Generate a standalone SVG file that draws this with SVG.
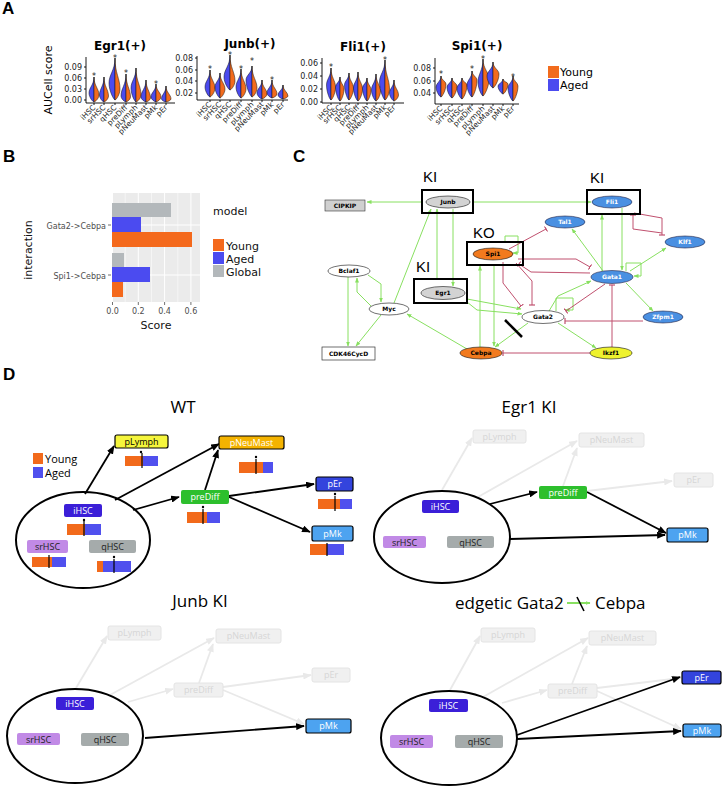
<svg xmlns="http://www.w3.org/2000/svg" width="722" height="786" viewBox="0 0 722 786">
<defs>
<style>
.lab{font-family:"Liberation Sans",Arial,sans-serif;font-weight:bold;font-size:17px;fill:#000}
.dj{font-family:"DejaVu Sans",sans-serif}
.tt{font-family:"DejaVu Sans",sans-serif;font-size:12px;font-weight:bold;text-anchor:middle}
.tk{font-family:"DejaVu Sans",sans-serif;font-size:8px;text-anchor:end;fill:#222}
.xl{font-family:"DejaVu Sans",sans-serif;font-size:7.5px;text-anchor:end;fill:#222}
.st{font-family:"DejaVu Sans",sans-serif;font-size:8px;text-anchor:middle;fill:#222}
.ax{stroke:#000;stroke-width:0.9;fill:none}
.vb{fill:#4B4BEF;stroke:#111;stroke-width:0.5}
.vo{fill:#F26B1D;stroke:#111;stroke-width:0.5}
.leg{font-family:"DejaVu Sans",sans-serif;font-size:11px;fill:#111}
.gt{font-family:"DejaVu Sans",sans-serif;font-size:8px;fill:#4D4D4D}
.eg{stroke:#88E060;stroke-width:1;fill:none}
.er{stroke:#C0506E;stroke-width:1;fill:none}
.nt{font-family:"DejaVu Sans",sans-serif;font-size:6px;font-weight:bold;text-anchor:middle}
.kb{fill:none;stroke:#000;stroke-width:2}
.ki{font-family:"Liberation Sans",Arial,sans-serif;font-size:15px;fill:#000}
.ttl{font-family:"Open Sans",sans-serif;font-size:17px;fill:#000}
.dn{font-family:"Open Sans",sans-serif;font-size:9px;text-anchor:middle;fill:#fff}
.ed{stroke:#000;stroke-width:1.8;fill:none}
.ef{stroke:#E9E9E9;stroke-width:1.8;fill:none}
.fn{fill:#F0F0F0;stroke:#E4E4E4;stroke-width:1}
.ft{font-family:"Open Sans",sans-serif;font-size:9px;text-anchor:middle;fill:#D6D6D6}
.ell{fill:none;stroke:#000;stroke-width:2}
.yo{fill:#F26A1B}
.ag{fill:#5050EE}
</style>
<marker id="ab" viewBox="0 0 10 8" refX="9" refY="4" markerWidth="9" markerHeight="7" markerUnits="userSpaceOnUse" orient="auto"><path d="M0,0 L10,4 L0,8 Z" fill="#000"/></marker>
<marker id="af" viewBox="0 0 10 8" refX="9" refY="4" markerWidth="9" markerHeight="7" markerUnits="userSpaceOnUse" orient="auto"><path d="M0,0 L10,4 L0,8 Z" fill="#E9E9E9"/></marker>
<marker id="agm" viewBox="0 0 10 8" refX="9" refY="4" markerWidth="5" markerHeight="4" markerUnits="userSpaceOnUse" orient="auto"><path d="M0,0 L10,4 L0,8 Z" fill="#88E060"/></marker>
<marker id="tb" viewBox="0 0 2 10" refX="1" refY="5" markerWidth="1.4" markerHeight="6" markerUnits="userSpaceOnUse" orient="auto"><rect x="0" y="0" width="2" height="10" fill="#C0506E"/></marker>
</defs>
<rect width="722" height="786" fill="#fff"/>

<!-- Panel letters -->
<text class="lab" x="2" y="14">A</text>
<text class="lab" x="3" y="162">B</text>
<text class="lab" x="293" y="162">C</text>
<text class="lab" x="3" y="380">D</text>

<!-- ============ PANEL A ============ -->
<g id="panelA">
<text class="dj" font-size="11" text-anchor="middle" transform="translate(52,80) rotate(-90)">AUCell score</text>

<g id="egr1plot">
<text class="tt" x="120" y="50">Egr1(+)</text>
<path class="ax" d="M86,57 V103 H175"/>
<path class="ax" d="M84,67 H86 M84,78 H86 M84,89 H86 M84,100 H86"/>
<text class="tk" x="82" y="70">0.09</text><text class="tk" x="82" y="81">0.06</text><text class="tk" x="82" y="92">0.03</text><text class="tk" x="82" y="103">0.00</text>
<g transform="translate(94,0)"><path class="vb" d="M0,77 C0,85 -5,87.4 -5,93 C-5,97.5 -1,102 0,102Z"/><path class="vo" d="M0,77 C0,86 5,88.7 5,95 C5,98.5 1,102 0,102Z"/></g>
<g transform="translate(104,0)"><path class="vb" d="M0,77 C0,86 -4.5,88.7 -4.5,95 C-4.5,98.5 -1,102 0,102Z"/><path class="vo" d="M0,77 C0,86.5 4.5,89.4 4.5,96 C4.5,99 1,102 0,102Z"/></g>
<g transform="translate(115,0)"><path class="vb" d="M0,58 C0,70.5 -6,74.3 -6,83 C-6,91.5 -1,100 0,100Z"/><path class="vo" d="M0,58 C0,73.5 5,78.2 5,89 C5,94.5 1,100 0,100Z"/></g>
<g transform="translate(126,0)"><path class="vb" d="M0,74 C0,85 -5,88.3 -5,96 C-5,99 -1,102 0,102Z"/><path class="vo" d="M0,74 C0,85.5 4.5,89 4.5,97 C4.5,99.5 1,102 0,102Z"/></g>
<g transform="translate(136,0)"><path class="vb" d="M0,68 C0,78 -5,81 -5,88 C-5,95 -1,102 0,102Z"/><path class="vo" d="M0,68 C0,81.5 5,85.5 5,95 C5,98.5 1,102 0,102Z"/></g>
<g transform="translate(146,0)"><path class="vb" d="M0,80 C0,88.5 -5,91 -5,97 C-5,99.5 -1,102 0,102Z"/><path class="vo" d="M0,80 C0,89 4.5,91.7 4.5,98 C4.5,100 1,102 0,102Z"/></g>
<g transform="translate(156,0)"><path class="vb" d="M0,84 C0,90.5 -5,92.5 -5,97 C-5,99.5 -1,102 0,102Z"/><path class="vo" d="M0,84 C0,90.5 5,92.5 5,97 C5,99.5 1,102 0,102Z"/></g>
<g transform="translate(166,0)"><path class="vb" d="M0,86 C0,92.5 -4.5,94.5 -4.5,99 C-4.5,100.5 -1,102 0,102Z"/><path class="vo" d="M0,86 C0,92.5 5,94.5 5,99 C5,100.5 1,102 0,102Z"/></g>
<text class="st" x="94" y="79">*</text><text class="st" x="115" y="61">*</text><text class="st" x="126" y="76">*</text><text class="st" x="156" y="87">*</text>
<path class="ax" d="M94,103 V105 M104,103 V105 M115,103 V105 M126,103 V105 M136,103 V105 M146,103 V105 M156,103 V105 M166,103 V105"/>
<text class="xl" transform="translate(96,108) rotate(-45)">iHSC</text>
<text class="xl" transform="translate(106,108) rotate(-45)">srHSC</text>
<text class="xl" transform="translate(117,108) rotate(-45)">qHSC</text>
<text class="xl" transform="translate(128,108) rotate(-45)">preDiff</text>
<text class="xl" transform="translate(138,108) rotate(-45)">pLymph</text>
<text class="xl" transform="translate(148,108) rotate(-45)">pNeuMast</text>
<text class="xl" transform="translate(158,108) rotate(-45)">pMk</text>
<text class="xl" transform="translate(168,108) rotate(-45)">pEr</text>
</g>

<g id="junbplot">
<text class="tt" x="250" y="48">Junb(+)</text>
<path class="ax" d="M197,56 V100 H288"/>
<path class="ax" d="M195,58 H197 M195,70 H197 M195,81 H197 M195,93 H197"/>
<text class="tk" x="193" y="61">0.08</text><text class="tk" x="193" y="73">0.06</text><text class="tk" x="193" y="84">0.04</text><text class="tk" x="193" y="96">0.02</text>
<g transform="translate(210,0)"><path class="vb" d="M0,70 C0,78.5 -5,81 -5,87 C-5,92 -1,97 0,97Z"/><path class="vo" d="M0,70 C0,79 5,81.7 5,88 C5,92.5 1,97 0,97Z"/></g>
<g transform="translate(220,0)"><path class="vb" d="M0,73 C0,80 -5,82.1 -5,87 C-5,92.5 -1,98 0,98Z"/><path class="vo" d="M0,73 C0,81 5,83.4 5,89 C5,93.5 1,98 0,98Z"/></g>
<g transform="translate(230,0)"><path class="vb" d="M0,55 C0,66 -6,69.3 -6,77 C-6,83.5 -1,90 0,90Z"/><path class="vo" d="M0,55 C0,68 5,71.9 5,81 C5,85.5 1,90 0,90Z"/></g>
<g transform="translate(241,0)"><path class="vb" d="M0,69 C0,78 -5,80.7 -5,87 C-5,92.5 -1,98 0,98Z"/><path class="vo" d="M0,69 C0,79 5,82 5,89 C5,93.5 1,98 0,98Z"/></g>
<g transform="translate(252,0)"><path class="vb" d="M0,66 C0,73 -6,75.1 -6,80 C-6,88.5 -1,97 0,97Z"/><path class="vo" d="M0,66 C0,77 5,80.3 5,88 C5,92.5 1,97 0,97Z"/></g>
<g transform="translate(262,0)"><path class="vb" d="M0,80 C0,86.5 -5,88.5 -5,93 C-5,96 -1,99 0,99Z"/><path class="vo" d="M0,80 C0,87 5,89.1 5,94 C5,96.5 1,99 0,99Z"/></g>
<g transform="translate(272,0)"><path class="vb" d="M0,80 C0,86.5 -5,88.5 -5,93 C-5,95.5 -1,98 0,98Z"/><path class="vo" d="M0,80 C0,87 5,89.1 5,94 C5,96 1,98 0,98Z"/></g>
<g transform="translate(283,0)"><path class="vb" d="M0,85 C0,90 -5,91.5 -5,95 C-5,97 -1,99 0,99Z"/><path class="vo" d="M0,85 C0,90.5 5,92.2 5,96 C5,97.5 1,99 0,99Z"/></g>
<text class="st" x="210" y="72">*</text><text class="st" x="230" y="58">*</text><text class="st" x="241" y="72">*</text><text class="st" x="252" y="64">*</text><text class="st" x="272" y="83">*</text>
<path class="ax" d="M210,100 V102 M220,100 V102 M230,100 V102 M241,100 V102 M252,100 V102 M262,100 V102 M272,100 V102 M283,100 V102"/>
<text class="xl" transform="translate(212,105) rotate(-45)">iHSC</text>
<text class="xl" transform="translate(222,105) rotate(-45)">srHSC</text>
<text class="xl" transform="translate(232,105) rotate(-45)">qHSC</text>
<text class="xl" transform="translate(243,105) rotate(-45)">preDiff</text>
<text class="xl" transform="translate(254,105) rotate(-45)">pLymph</text>
<text class="xl" transform="translate(264,105) rotate(-45)">pNeuMast</text>
<text class="xl" transform="translate(274,105) rotate(-45)">pMk</text>
<text class="xl" transform="translate(285,105) rotate(-45)">pEr</text>
</g>

<g id="fli1plot">
<text class="tt" x="363" y="51">Fli1(+)</text>
<path class="ax" d="M322,58 V103 H404"/>
<path class="ax" d="M320,63 H322 M320,76 H322 M320,89 H322 M320,102 H322"/>
<text class="tk" x="318" y="66">0.06</text><text class="tk" x="318" y="79">0.04</text><text class="tk" x="318" y="92">0.02</text><text class="tk" x="318" y="105">0.00</text>
<g transform="translate(331,0)"><path class="vb" d="M0,68 C0,76.5 -4.5,79 -4.5,85 C-4.5,92.5 -1,100 0,100Z"/><path class="vo" d="M0,68 C0,77.5 4.5,80.4 4.5,87 C4.5,93.5 1,100 0,100Z"/></g>
<g transform="translate(340,0)"><path class="vb" d="M0,77 C0,82 -4.5,83.5 -4.5,87 C-4.5,94 -1,101 0,101Z"/><path class="vo" d="M0,77 C0,83 4,84.8 4,89 C4,95 1,101 0,101Z"/></g>
<g transform="translate(349,0)"><path class="vb" d="M0,73 C0,79 -4.5,80.8 -4.5,85 C-4.5,92.5 -1,100 0,100Z"/><path class="vo" d="M0,73 C0,80.5 4.5,82.8 4.5,88 C4.5,94 1,100 0,100Z"/></g>
<g transform="translate(358,0)"><path class="vb" d="M0,72 C0,80 -4.5,82.4 -4.5,88 C-4.5,94.5 -1,101 0,101Z"/><path class="vo" d="M0,72 C0,80.5 4.5,83 4.5,89 C4.5,95 1,101 0,101Z"/></g>
<g transform="translate(367,0)"><path class="vb" d="M0,78 C0,83 -4.5,84.5 -4.5,88 C-4.5,94.5 -1,101 0,101Z"/><path class="vo" d="M0,78 C0,84 4,85.8 4,90 C4,95.5 1,101 0,101Z"/></g>
<g transform="translate(376,0)"><path class="vb" d="M0,74 C0,82 -4.5,84.4 -4.5,90 C-4.5,95.5 -1,101 0,101Z"/><path class="vo" d="M0,74 C0,82.5 4.5,85 4.5,91 C4.5,96 1,101 0,101Z"/></g>
<g transform="translate(385,0)"><path class="vb" d="M0,60 C0,71 -5.5,74.3 -5.5,82 C-5.5,91 -1,100 0,100Z"/><path class="vo" d="M0,60 C0,74.5 4.5,78.9 4.5,89 C4.5,94.5 1,100 0,100Z"/></g>
<g transform="translate(394,0)"><path class="vb" d="M0,80 C0,86.5 -4.5,88.5 -4.5,93 C-4.5,97 -1,101 0,101Z"/><path class="vo" d="M0,80 C0,87.5 4.5,89.8 4.5,95 C4.5,98 1,101 0,101Z"/></g>
<text class="st" x="331" y="70">*</text><text class="st" x="385" y="63">*</text>
<path class="ax" d="M331,103 V105 M340,103 V105 M349,103 V105 M358,103 V105 M367,103 V105 M376,103 V105 M385,103 V105 M394,103 V105"/>
<text class="xl" transform="translate(333,108) rotate(-45)">iHSC</text>
<text class="xl" transform="translate(342,108) rotate(-45)">srHSC</text>
<text class="xl" transform="translate(351,108) rotate(-45)">qHSC</text>
<text class="xl" transform="translate(360,108) rotate(-45)">preDiff</text>
<text class="xl" transform="translate(369,108) rotate(-45)">pLymph</text>
<text class="xl" transform="translate(378,108) rotate(-45)">pNeuMast</text>
<text class="xl" transform="translate(387,108) rotate(-45)">pMk</text>
<text class="xl" transform="translate(396,108) rotate(-45)">pEr</text>
</g>

<g id="spi1plot">
<text class="tt" x="477" y="50">Spi1(+)</text>
<path class="ax" d="M435,58 V104 H519"/>
<path class="ax" d="M433,68 H435 M433,81 H435 M433,93 H435"/>
<text class="tk" x="431" y="71">0.08</text><text class="tk" x="431" y="84">0.06</text><text class="tk" x="431" y="96">0.04</text>
<g transform="translate(441,0)"><path class="vb" d="M0,76 C0,81.5 -5,83.2 -5,87 C-5,92 -1,97 0,97Z"/><path class="vo" d="M0,76 C0,80 5,81.2 5,84 C5,90.5 1,97 0,97Z"/></g>
<g transform="translate(452,0)"><path class="vb" d="M0,78 C0,82.5 -5,83.9 -5,87 C-5,92.5 -1,98 0,98Z"/><path class="vo" d="M0,78 C0,82 5,83.2 5,86 C5,92 1,98 0,98Z"/></g>
<g transform="translate(462,0)"><path class="vb" d="M0,78 C0,83 -5,84.5 -5,88 C-5,93.5 -1,99 0,99Z"/><path class="vo" d="M0,78 C0,81.5 5,82.6 5,85 C5,92 1,99 0,99Z"/></g>
<g transform="translate(472,0)"><path class="vb" d="M0,71 C0,78 -5,80.1 -5,85 C-5,91 -1,97 0,97Z"/><path class="vo" d="M0,71 C0,75.5 5,76.9 5,80 C5,88.5 1,97 0,97Z"/></g>
<g transform="translate(483,0)"><path class="vb" d="M0,59 C0,70.5 -5,74 -5,82 C-5,89 -1,96 0,96Z"/><path class="vo" d="M0,59 C0,69 6,72 6,79 C6,87.5 1,96 0,96Z"/></g>
<g transform="translate(493,0)"><path class="vb" d="M0,62 C0,69 -6,71.1 -6,76 C-6,82 -1,88 0,88Z"/><path class="vo" d="M0,62 C0,68 6,69.8 6,74 C6,81 1,88 0,88Z"/></g>
<g transform="translate(503,0)"><path class="vb" d="M0,79 C0,82.5 -5,83.6 -5,86 C-5,90 -1,94 0,94Z"/><path class="vo" d="M0,79 C0,81.5 5,82.3 5,84 C5,89 1,94 0,94Z"/></g>
<g transform="translate(513,0)"><path class="vb" d="M0,76 C0,82 -5,83.8 -5,88 C-5,94.5 -1,101 0,101Z"/><path class="vo" d="M0,76 C0,81 5,82.5 5,86 C5,93.5 1,101 0,101Z"/></g>
<text class="st" x="441" y="77">*</text><text class="st" x="472" y="72">*</text><text class="st" x="483" y="62">*</text><text class="st" x="513" y="80">*</text>
<path class="ax" d="M441,104 V106 M452,104 V106 M462,104 V106 M472,104 V106 M483,104 V106 M493,104 V106 M503,104 V106 M513,104 V106"/>
<text class="xl" transform="translate(443,109) rotate(-45)">iHSC</text>
<text class="xl" transform="translate(454,109) rotate(-45)">srHSC</text>
<text class="xl" transform="translate(464,109) rotate(-45)">qHSC</text>
<text class="xl" transform="translate(474,109) rotate(-45)">preDiff</text>
<text class="xl" transform="translate(485,109) rotate(-45)">pLymph</text>
<text class="xl" transform="translate(495,109) rotate(-45)">pNeuMast</text>
<text class="xl" transform="translate(505,109) rotate(-45)">pMk</text>
<text class="xl" transform="translate(515,109) rotate(-45)">pEr</text>
</g>

<g id="legendA">
<rect x="548" y="66" width="11" height="12" fill="#F26B1D"/>
<rect x="548" y="79" width="11" height="12" fill="#4B4BEF"/>
<text class="dj" font-size="11" x="560" y="76">Young</text>
<text class="dj" font-size="11" x="560" y="89">Aged</text>
</g>
</g>

<!-- ============ PANEL B ============ -->
<g id="panelB">
<rect x="112" y="193" width="88" height="109" fill="#EBEBEB"/>
<path d="M125.2,193 V302 M151.5,193 V302 M177.8,193 V302" stroke="#fff" stroke-width="0.5"/>
<path d="M112.5,193 V302 M138.3,193 V302 M164.6,193 V302 M190.9,193 V302 M112,225 H200 M112,275 H200" stroke="#fff" stroke-width="1"/>
<rect x="112" y="203" width="59" height="14" fill="#B3B8BB"/>
<rect x="112" y="217" width="29" height="15" fill="#4B4BF0"/>
<rect x="112" y="232" width="80" height="15" fill="#F4691C"/>
<rect x="112" y="253" width="12" height="14" fill="#B3B8BB"/>
<rect x="112" y="267" width="38" height="15" fill="#4B4BF0"/>
<rect x="112" y="282" width="11" height="15" fill="#F4691C"/>
<text class="gt" x="106" y="229" text-anchor="end">Gata2-&gt;Cebpa</text>
<text class="gt" x="106" y="279" text-anchor="end">Spi1-&gt;Cebpa</text>
<path d="M108,225 H111 M108,275 H111" stroke="#4D4D4D" stroke-width="0.8"/>
<path d="M112.5,302 V305 M138.3,302 V305 M164.6,302 V305 M190.9,302 V305" stroke="#4D4D4D" stroke-width="0.8"/>
<text class="gt" x="112.5" y="314" text-anchor="middle">0.0</text>
<text class="gt" x="138.3" y="314" text-anchor="middle">0.2</text>
<text class="gt" x="164.6" y="314" text-anchor="middle">0.4</text>
<text class="gt" x="190.9" y="314" text-anchor="middle">0.6</text>
<text class="leg" x="156" y="329" text-anchor="middle">Score</text>
<text class="leg" text-anchor="middle" transform="translate(32,250) rotate(-90)">interaction</text>
<text class="leg" x="213" y="215">model</text>
<rect x="213" y="239" width="11" height="12" fill="#F4691C"/>
<rect x="213" y="252" width="11" height="12" fill="#4B4BF0"/>
<rect x="213" y="265" width="11" height="12" fill="#B3B8BB"/>
<text class="leg" x="226" y="250">Young</text>
<text class="leg" x="226" y="263">Aged</text>
<text class="leg" x="226" y="276">Global</text>
</g>

<!-- ============ PANEL C ============ -->
<g id="panelC">
<g id="connectorsC">
<g class="eg" marker-end="url(#agm)">
<path d="M422,202 L367,202"/>
<path d="M473,202 L591,202"/>
<path d="M394,303 L431,209"/>
<path d="M437,279 L437,209"/>
<path d="M453,209 L453,286"/>
<path d="M371,306 L357,292 L357,278"/>
<path d="M368,275 L381,284 L381,302"/>
<path d="M348,277 L348,346"/>
<path d="M381,315 L356,346"/>
<path d="M467,349 L407,314"/>
<path d="M480,347 L480,266"/>
<path d="M494,266 L494,346"/>
<path d="M505,242 L505,236 L518,236 L518,253 L513,253"/>
<path d="M603,271 L572,229"/>
<path d="M602,271 L602,215"/>
<path d="M622,208 L622,270"/>
<path d="M626,271 L626,263 L641,263 L641,276 L634,276"/>
<path d="M630,271 L666,248"/>
<path d="M626,283 L653,311"/>
<path d="M549,311 L558,296 L591,281"/>
<path d="M556,311 L556,298 L573,298 L573,310 L565,310"/>
<path d="M528,323 L495,347"/>
<path d="M558,323 L596,348"/>
<path d="M467,299 L521,309"/>
<path d="M467,302 L477,310 L522,314"/>
</g>
<g class="er" marker-end="url(#tb)">
<path d="M509,249 L546,229"/>
<path d="M518,259 L576,259 L590,267"/>
<path d="M590,273 L531,272 L519,264"/>
<path d="M503,262 L503,283 L521,306"/>
<path d="M516,263 L532,281 L532,305"/>
<path d="M605,284 L566,311"/>
<path d="M643,321 L565,321"/>
<path d="M612,347 L612,285"/>
<path d="M590,353 L503,353"/>
<path d="M634,213 L662,218 L662,235"/>
<path d="M662,233 L633,229 L633,215"/>
</g>
<path d="M505,320 L522,337" stroke="#000" stroke-width="2.5"/>
</g>
<g id="nCIPKIP"><rect x="325" y="200" width="40" height="11" fill="#D0D0D0" stroke="#333" stroke-width="0.6"/><text class="nt" x="345" y="208">CIPKIP</text></g>
<g id="nJunb"><rect class="kb" x="422" y="190" width="51" height="23"/><ellipse cx="448" cy="202" rx="22" ry="6" fill="#D3D3D3" stroke="#111" stroke-width="0.6"/><text class="nt" x="448" y="204">Junb</text><text class="ki" x="423" y="182">KI</text></g>
<g id="nFli1"><rect class="kb" x="587" y="190" width="53" height="24"/><ellipse cx="612" cy="202" rx="20" ry="6" fill="#4A90E2" stroke="#224" stroke-width="0.6"/><text class="nt" x="612" y="204" fill="#fff">Fli1</text><text class="ki" x="590" y="183">KI</text></g>
<g id="nTal1"><ellipse cx="565" cy="222" rx="20" ry="6" fill="#4A90E2" stroke="#224" stroke-width="0.6"/><text class="nt" x="565" y="224" fill="#fff">Tal1</text></g>
<g id="nKlf1"><ellipse cx="685" cy="242" rx="20" ry="6" fill="#4A90E2" stroke="#224" stroke-width="0.6"/><text class="nt" x="685" y="244" fill="#fff">Klf1</text></g>
<g id="nSpi1"><rect class="kb" x="467" y="242" width="56" height="23"/><ellipse cx="493" cy="254" rx="20" ry="6" fill="#F27A1E" stroke="#111" stroke-width="0.6"/><text class="nt" x="493" y="256">Spi1</text><text class="ki" x="473" y="238">KO</text></g>
<g id="nEgr1"><rect class="kb" x="414" y="279" width="53" height="24"/><ellipse cx="443" cy="293" rx="22" ry="6.5" fill="#D3D3D3" stroke="#111" stroke-width="0.6"/><text class="nt" x="443" y="295">Egr1</text><text class="ki" x="416" y="272">KI</text></g>
<g id="nBclaf1"><ellipse cx="349" cy="271" rx="21" ry="6" fill="#fff" stroke="#111" stroke-width="0.6"/><text class="nt" x="349" y="273">Bclaf1</text></g>
<g id="nMyc"><ellipse cx="389" cy="309" rx="20" ry="6" fill="#fff" stroke="#111" stroke-width="0.6"/><text class="nt" x="389" y="311">Myc</text></g>
<g id="nCDK"><rect x="322" y="347" width="53" height="13" fill="#fff" stroke="#333" stroke-width="0.7"/><text class="nt" x="348.5" y="356" font-weight="normal" font-size="6.5">CDK46CycD</text></g>
<g id="nGata1"><ellipse cx="612" cy="277" rx="21" ry="6.5" fill="#4A90E2" stroke="#224" stroke-width="0.6"/><text class="nt" x="612" y="279" fill="#fff">Gata1</text></g>
<g id="nGata2"><ellipse cx="543" cy="317" rx="21" ry="6.5" fill="#fff" stroke="#111" stroke-width="0.6"/><text class="nt" x="543" y="319">Gata2</text></g>
<g id="nZfpm1"><ellipse cx="663" cy="317" rx="20" ry="6" fill="#4A90E2" stroke="#224" stroke-width="0.6"/><text class="nt" x="663" y="319" fill="#fff">Zfpm1</text></g>
<g id="nCebpa"><ellipse cx="481" cy="353" rx="21" ry="6" fill="#F27A1E" stroke="#111" stroke-width="0.6"/><text class="nt" x="481" y="355">Cebpa</text></g>
<g id="nIkzf1"><ellipse cx="611" cy="353" rx="21" ry="6" fill="#EEF22E" stroke="#111" stroke-width="0.6"/><text class="nt" x="611" y="355">Ikzf1</text></g>
</g>

<!-- ============ PANEL D ============ -->
<g id="panelD">
<!-- WT -->
<g id="WT">
<text class="ttl" x="183" y="413" text-anchor="middle">WT</text>
<g id="wt-edges">
<path class="ed" marker-end="url(#ab)" d="M85,494 L114,446"/>
<path class="ed" marker-end="url(#ab)" d="M115,500 L219,444"/>
<path class="ed" marker-end="url(#ab)" d="M133,510 L179,497"/>
<path class="ed" marker-end="url(#ab)" d="M205,490 L218,450"/>
<path class="ed" marker-end="url(#ab)" d="M229,496 L314,484"/>
<path class="ed" marker-end="url(#ab)" d="M229,497 L310,532"/>
</g>
<ellipse class="ell" cx="83" cy="540" rx="67" ry="48"/>
<g id="wt-pLymph"><rect x="115" y="435" width="53" height="13" rx="2" fill="#F5F53C" stroke="#000" stroke-width="1.2"/><text class="dn" x="141.5" y="445" fill="#000" style="fill:#000">pLymph</text></g>
<g id="wt-pNeuMast"><rect x="219" y="436" width="65" height="13" rx="2" fill="#F4B300" stroke="#000" stroke-width="1.2"/><text class="dn" x="251.5" y="446">pNeuMast</text></g>
<g id="wt-pEr"><rect x="316" y="477" width="37" height="14" rx="2" fill="#3344DD" stroke="#000" stroke-width="1.2"/><text class="dn" x="334.5" y="487">pEr</text></g>
<g id="wt-pMk"><rect x="312" y="526" width="41" height="15" rx="2" fill="#4DA3F0" stroke="#000" stroke-width="1.2"/><text class="dn" x="332.5" y="537">pMk</text></g>
<g id="wt-preDiff"><rect x="181" y="490" width="48" height="14" rx="2" fill="#2DBF2D"/><text class="dn" x="205" y="500">preDiff</text></g>
<g id="wt-iHSC"><rect x="64" y="504" width="38" height="13" rx="2" fill="#3B1FD8"/><text class="dn" x="83" y="514">iHSC</text></g>
<g id="wt-srHSC"><rect x="27" y="540" width="41" height="13" rx="2" fill="#C18AE6"/><text class="dn" x="47.5" y="550" style="fill:#222">srHSC</text></g>
<g id="wt-qHSC"><rect x="89" y="540" width="47" height="13" rx="2" fill="#A5ABAB"/><text class="dn" x="112.5" y="550" style="fill:#222">qHSC</text></g>
<g id="wt-bars">
<rect class="yo" x="125" y="456" width="18" height="10"/><rect class="ag" x="143" y="456" width="15" height="10"/><path d="M142,453 V468" stroke="#000" stroke-width="1.2"/><circle cx="141" cy="452" r="1.2"/>
<rect class="yo" x="239" y="462" width="24" height="11"/><rect class="ag" x="263" y="462" width="10" height="11"/><path d="M256,459 V474" stroke="#000" stroke-width="1.2"/><circle cx="256" cy="457" r="1.2"/>
<rect class="yo" x="187" y="512" width="20" height="11"/><rect class="ag" x="207" y="512" width="13" height="11"/><path d="M203,509 V524" stroke="#000" stroke-width="1.2"/><circle cx="203" cy="507" r="1.2"/>
<rect class="yo" x="318" y="499" width="22" height="10"/><rect class="ag" x="340" y="499" width="12" height="10"/><path d="M335,496 V511" stroke="#000" stroke-width="1.2"/><circle cx="335" cy="494" r="1.2"/>
<rect class="yo" x="310" y="544" width="17" height="11"/><rect class="ag" x="327" y="544" width="17" height="11"/><path d="M327,543 V556" stroke="#000" stroke-width="1.2"/>
<rect class="yo" x="67" y="524" width="18" height="11"/><rect class="ag" x="85" y="524" width="16" height="11"/><path d="M84,521 V536" stroke="#000" stroke-width="1.2"/><circle cx="84" cy="520" r="1.2"/>
<rect class="yo" x="32" y="557" width="20" height="10"/><rect class="ag" x="52" y="557" width="14" height="10"/><path d="M49,555 V568" stroke="#000" stroke-width="1.2"/>
<rect class="yo" x="97" y="561" width="6" height="11"/><rect class="ag" x="103" y="561" width="28" height="11"/><path d="M114,559 V573" stroke="#000" stroke-width="1.2"/><circle cx="114" cy="557" r="1.2"/>
</g>
<g id="wt-legend">
<rect class="yo" x="33" y="453" width="10" height="11"/>
<rect class="ag" x="33" y="467" width="10" height="11"/>
<text font-family="Open Sans, sans-serif" font-size="11" x="45" y="463">Young</text>
<text font-family="Open Sans, sans-serif" font-size="11" x="45" y="477">Aged</text>
</g>
</g>

<!-- Egr1 KI -->
<g id="Egr1KI">
<text class="ttl" x="529" y="413" text-anchor="middle">Egr1 KI</text>
<g id="egr-edges">
<path class="ef" marker-end="url(#af)" d="M442,490 L472,438"/>
<path class="ef" marker-end="url(#af)" d="M478,497 L577,441"/>
<path class="ef" marker-end="url(#af)" d="M563,486 L577,448"/>
<path class="ef" marker-end="url(#af)" d="M587,491 L672,481"/>
<path class="ed" marker-end="url(#ab)" d="M490,504 L537,492"/>
<path class="ed" marker-end="url(#ab)" d="M587,492 L666,533"/>
<path class="ed" marker-end="url(#ab)" d="M510,539 L665,535"/>
</g>
<ellipse class="ell" cx="442" cy="537" rx="68" ry="46"/>
<g id="egr-pLymph"><rect class="fn" x="473" y="430" width="53" height="13" rx="2"/><text class="ft" x="499.5" y="440">pLymph</text></g>
<g id="egr-pNeuMast"><rect class="fn" x="579" y="433" width="65" height="14" rx="2"/><text class="ft" x="611.5" y="443">pNeuMast</text></g>
<g id="egr-pEr"><rect class="fn" x="674" y="473" width="39" height="14" rx="2"/><text class="ft" x="693.5" y="483">pEr</text></g>
<g id="egr-preDiff"><rect x="539" y="486" width="48" height="13" rx="2" fill="#2DBF2D"/><text class="dn" x="563" y="496">preDiff</text></g>
<g id="egr-pMk"><rect x="667" y="528" width="41" height="14" rx="2" fill="#4DA3F0" stroke="#000" stroke-width="1.2"/><text class="dn" x="687.5" y="538">pMk</text></g>
<g id="egr-iHSC"><rect x="422" y="500" width="37" height="13" rx="2" fill="#3B1FD8"/><text class="dn" x="440.5" y="510">iHSC</text></g>
<g id="egr-srHSC"><rect x="383" y="536" width="43" height="12" rx="2" fill="#C18AE6"/><text class="dn" x="404.5" y="545.5" style="fill:#222">srHSC</text></g>
<g id="egr-qHSC"><rect x="447" y="536" width="47" height="12" rx="2" fill="#A5ABAB"/><text class="dn" x="470.5" y="545.5" style="fill:#222">qHSC</text></g>
</g>

<!-- Junb KI -->
<g id="JunbKI">
<text class="ttl" x="200" y="607" text-anchor="middle">Junb KI</text>
<g id="junb-edges">
<path class="ef" marker-end="url(#af)" d="M76,688 L107,636"/>
<path class="ef" marker-end="url(#af)" d="M110,695 L214,638"/>
<path class="ef" marker-end="url(#af)" d="M128,702 L173,689"/>
<path class="ef" marker-end="url(#af)" d="M199,683 L213,644"/>
<path class="ef" marker-end="url(#af)" d="M223,687 L311,675"/>
<path class="ef" marker-end="url(#af)" d="M223,690 L304,724"/>
<path class="ed" marker-end="url(#ab)" d="M145,738 L304,726"/>
</g>
<ellipse class="ell" cx="75" cy="736" rx="68" ry="47"/>
<g id="junb-pLymph"><rect class="fn" x="108" y="626" width="53" height="14" rx="2"/><text class="ft" x="134.5" y="636">pLymph</text></g>
<g id="junb-pNeuMast"><rect class="fn" x="216" y="629" width="65" height="14" rx="2"/><text class="ft" x="248.5" y="639">pNeuMast</text></g>
<g id="junb-pEr"><rect class="fn" x="312" y="668" width="38" height="14" rx="2"/><text class="ft" x="331" y="678">pEr</text></g>
<g id="junb-preDiff"><rect class="fn" x="174" y="683" width="49" height="14" rx="2"/><text class="ft" x="198.5" y="693">preDiff</text></g>
<g id="junb-pMk"><rect x="306" y="719" width="45" height="14" rx="2" fill="#4DA3F0" stroke="#000" stroke-width="1.2"/><text class="dn" x="328.5" y="729">pMk</text></g>
<g id="junb-iHSC"><rect x="56" y="697" width="38" height="13" rx="2" fill="#3B1FD8"/><text class="dn" x="75" y="707">iHSC</text></g>
<g id="junb-srHSC"><rect x="17" y="733" width="43" height="12" rx="2" fill="#C18AE6"/><text class="dn" x="38.5" y="742.5" style="fill:#222">srHSC</text></g>
<g id="junb-qHSC"><rect x="81" y="733" width="48" height="13" rx="2" fill="#A5ABAB"/><text class="dn" x="105" y="743" style="fill:#222">qHSC</text></g>
</g>

<!-- edgetic -->
<g id="edgetic">
<text class="ttl" x="455" y="609">edgetic Gata2</text>
<path d="M567,603 L590,603" stroke="#88E060" stroke-width="2" marker-end="url(#agm)"/>
<path d="M577,597 L584,611" stroke="#000" stroke-width="1.6"/>
<text class="ttl" x="595" y="609">Cebpa</text>
<g id="edg-edges">
<path class="ef" marker-end="url(#af)" d="M450,690 L480,636"/>
<path class="ef" marker-end="url(#af)" d="M483,697 L588,638"/>
<path class="ef" marker-end="url(#af)" d="M502,703 L547,690"/>
<path class="ef" marker-end="url(#af)" d="M572,684 L587,646"/>
<path class="ef" marker-end="url(#af)" d="M597,688 L681,678"/>
<path class="ef" marker-end="url(#af)" d="M597,691 L681,729"/>
<path class="ed" marker-end="url(#ab)" d="M517,735 L680,677"/>
<path class="ed" marker-end="url(#ab)" d="M517,739 L681,731"/>
</g>
<ellipse class="ell" cx="449" cy="738" rx="68" ry="47"/>
<g id="edg-pLymph"><rect class="fn" x="481" y="628" width="54" height="14" rx="2"/><text class="ft" x="508" y="638">pLymph</text></g>
<g id="edg-pNeuMast"><rect class="fn" x="589" y="631" width="67" height="14" rx="2"/><text class="ft" x="622.5" y="641">pNeuMast</text></g>
<g id="edg-preDiff"><rect class="fn" x="548" y="684" width="49" height="14" rx="2"/><text class="ft" x="572.5" y="694">preDiff</text></g>
<g id="edg-pEr"><rect x="682" y="671" width="39" height="13" rx="2" fill="#3344DD" stroke="#000" stroke-width="1.2"/><text class="dn" x="701.5" y="681">pEr</text></g>
<g id="edg-pMk"><rect x="683" y="724" width="38" height="13" rx="2" fill="#4DA3F0" stroke="#000" stroke-width="1.2"/><text class="dn" x="702" y="734">pMk</text></g>
<g id="edg-iHSC"><rect x="429" y="699" width="39" height="13" rx="2" fill="#3B1FD8"/><text class="dn" x="448.5" y="709">iHSC</text></g>
<g id="edg-srHSC"><rect x="390" y="735" width="43" height="13" rx="2" fill="#C18AE6"/><text class="dn" x="411.5" y="745" style="fill:#222">srHSC</text></g>
<g id="edg-qHSC"><rect x="455" y="735" width="48" height="13" rx="2" fill="#A5ABAB"/><text class="dn" x="479" y="745" style="fill:#222">qHSC</text></g>
</g>
</g>
</svg>
